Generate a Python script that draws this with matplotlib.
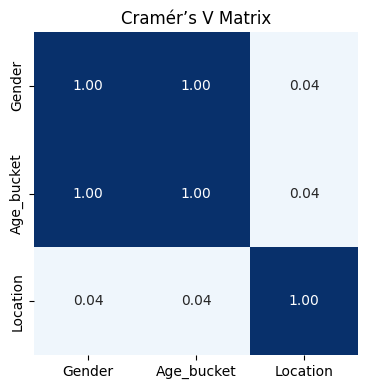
import matplotlib
matplotlib.use("Agg")
import matplotlib.pyplot as plt
import seaborn as sns
import numpy as np

labels = ["Gender", "Age_bucket", "Location"]
row_gender = [1.00, 1.00, 0.04]
row_age = [1.00, 1.00, 0.04]
row_location = [0.04, 0.04, 1.00]

data = np.array([row_gender, row_age, row_location])

fig = plt.figure(figsize=(3.67, 3.9), dpi=100)
ax = fig.add_axes([34/367, (390-355)/390, 324/367, 323/390])
sns.heatmap(data, annot=True, fmt=".2f", cmap="Blues", vmin=0, vmax=1,
            cbar=False, square=False, xticklabels=labels, yticklabels=labels, ax=ax)
ax.set_title("Cramér’s V Matrix")
fig.savefig("out.png", dpi=100)
